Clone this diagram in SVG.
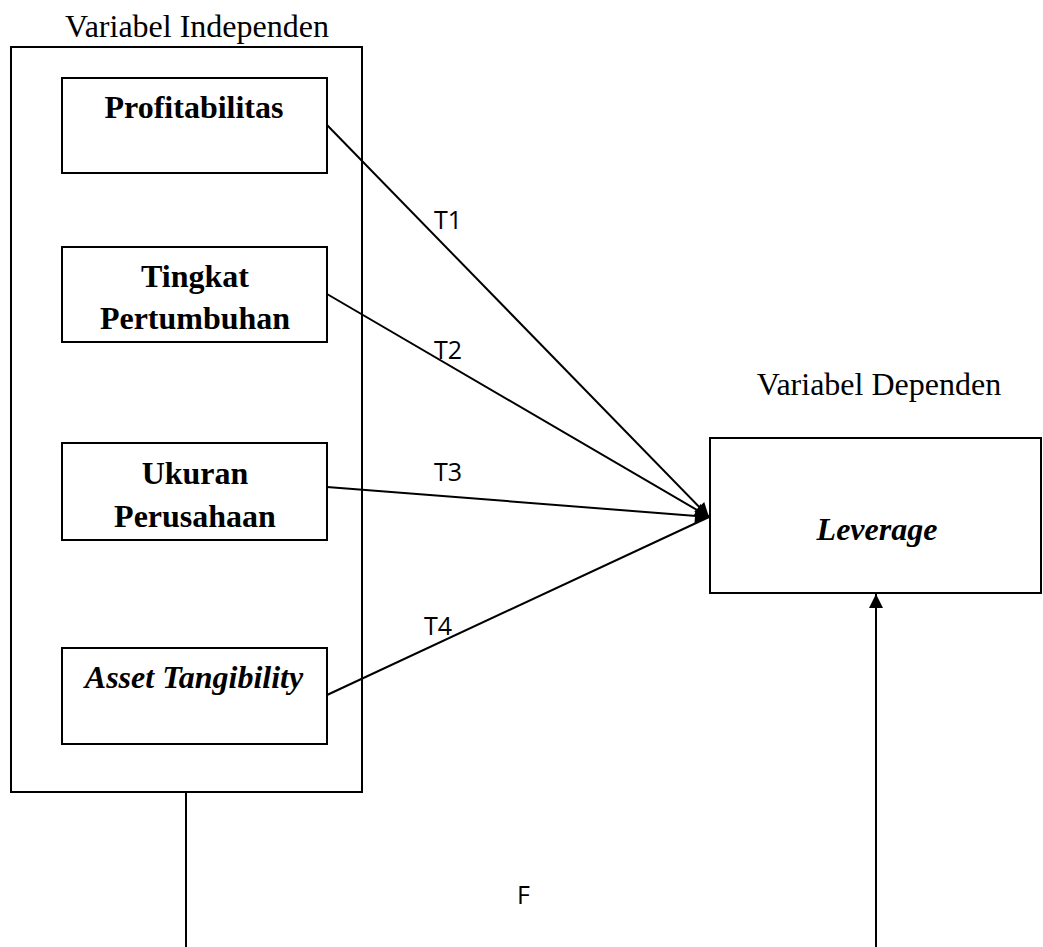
<svg xmlns="http://www.w3.org/2000/svg" width="1043" height="947" viewBox="0 0 1043 947">
<style>
.box{fill:#fff;stroke:#000;stroke-width:2}
.serif{font-family:"Liberation Serif","Times New Roman",serif;fill:#000}
.lbl{font-size:32px;font-weight:bold;text-anchor:middle}
.cap{font-size:32px;text-anchor:middle}
.t{font-family:"Open Sans","Liberation Sans",sans-serif;font-size:25px;fill:#000}
.ln{stroke:#000;stroke-width:2;fill:none}
</style>
<defs>
<marker id="ah2" viewBox="0 0 10 10" refX="10" refY="5" markerWidth="15" markerHeight="14" markerUnits="userSpaceOnUse" orient="auto">
<path d="M0,0 L10,5 L0,10 z" fill="#000"/>
</marker>
</defs>
<g id="group-independen">
<text class="serif cap" x="197" y="37">Variabel Independen</text>
<rect class="box" x="11" y="47" width="351" height="745"/>
</g>
<g id="node-profitabilitas">
<rect class="box" x="62" y="78" width="265" height="95"/>
<text class="serif lbl" x="194" y="118">Profitabilitas</text>
</g>
<g id="node-tingkat">
<rect class="box" x="62" y="247" width="265" height="95"/>
<text class="serif lbl" x="195" y="287">Tingkat</text>
<text class="serif lbl" x="195" y="329">Pertumbuhan</text>
</g>
<g id="node-ukuran">
<rect class="box" x="62" y="443" width="265" height="97"/>
<text class="serif lbl" x="195" y="484">Ukuran</text>
<text class="serif lbl" x="195" y="527">Perusahaan</text>
</g>
<g id="node-asset">
<rect class="box" x="62" y="648" width="265" height="96"/>
<text class="serif lbl" x="194" y="688" font-style="italic">Asset Tangibility</text>
</g>
<g id="node-leverage">
<text class="serif cap" x="879" y="395">Variabel Dependen</text>
<rect class="box" x="710" y="438" width="331" height="155"/>
<text class="serif lbl" x="877" y="540" font-style="italic">Leverage</text>
</g>
<g id="connectors">
<line class="ln" x1="327" y1="125" x2="709" y2="517" marker-end="url(#ah2)"/>
<line class="ln" x1="327" y1="294" x2="709" y2="517" marker-end="url(#ah2)"/>
<line class="ln" x1="327" y1="487" x2="709" y2="517" marker-end="url(#ah2)"/>
<line class="ln" x1="327" y1="695" x2="709" y2="517"/>
<line class="ln" x1="186" y1="792" x2="186" y2="947"/>
<line class="ln" x1="876" y1="947" x2="876" y2="594" marker-end="url(#ah2)"/>
<text class="t" x="434" y="229">T1</text>
<text class="t" x="434" y="359">T2</text>
<text class="t" x="434" y="481">T3</text>
<text class="t" x="424" y="635">T4</text>
<text class="t" x="517" y="904">F</text>
</g>
</svg>
